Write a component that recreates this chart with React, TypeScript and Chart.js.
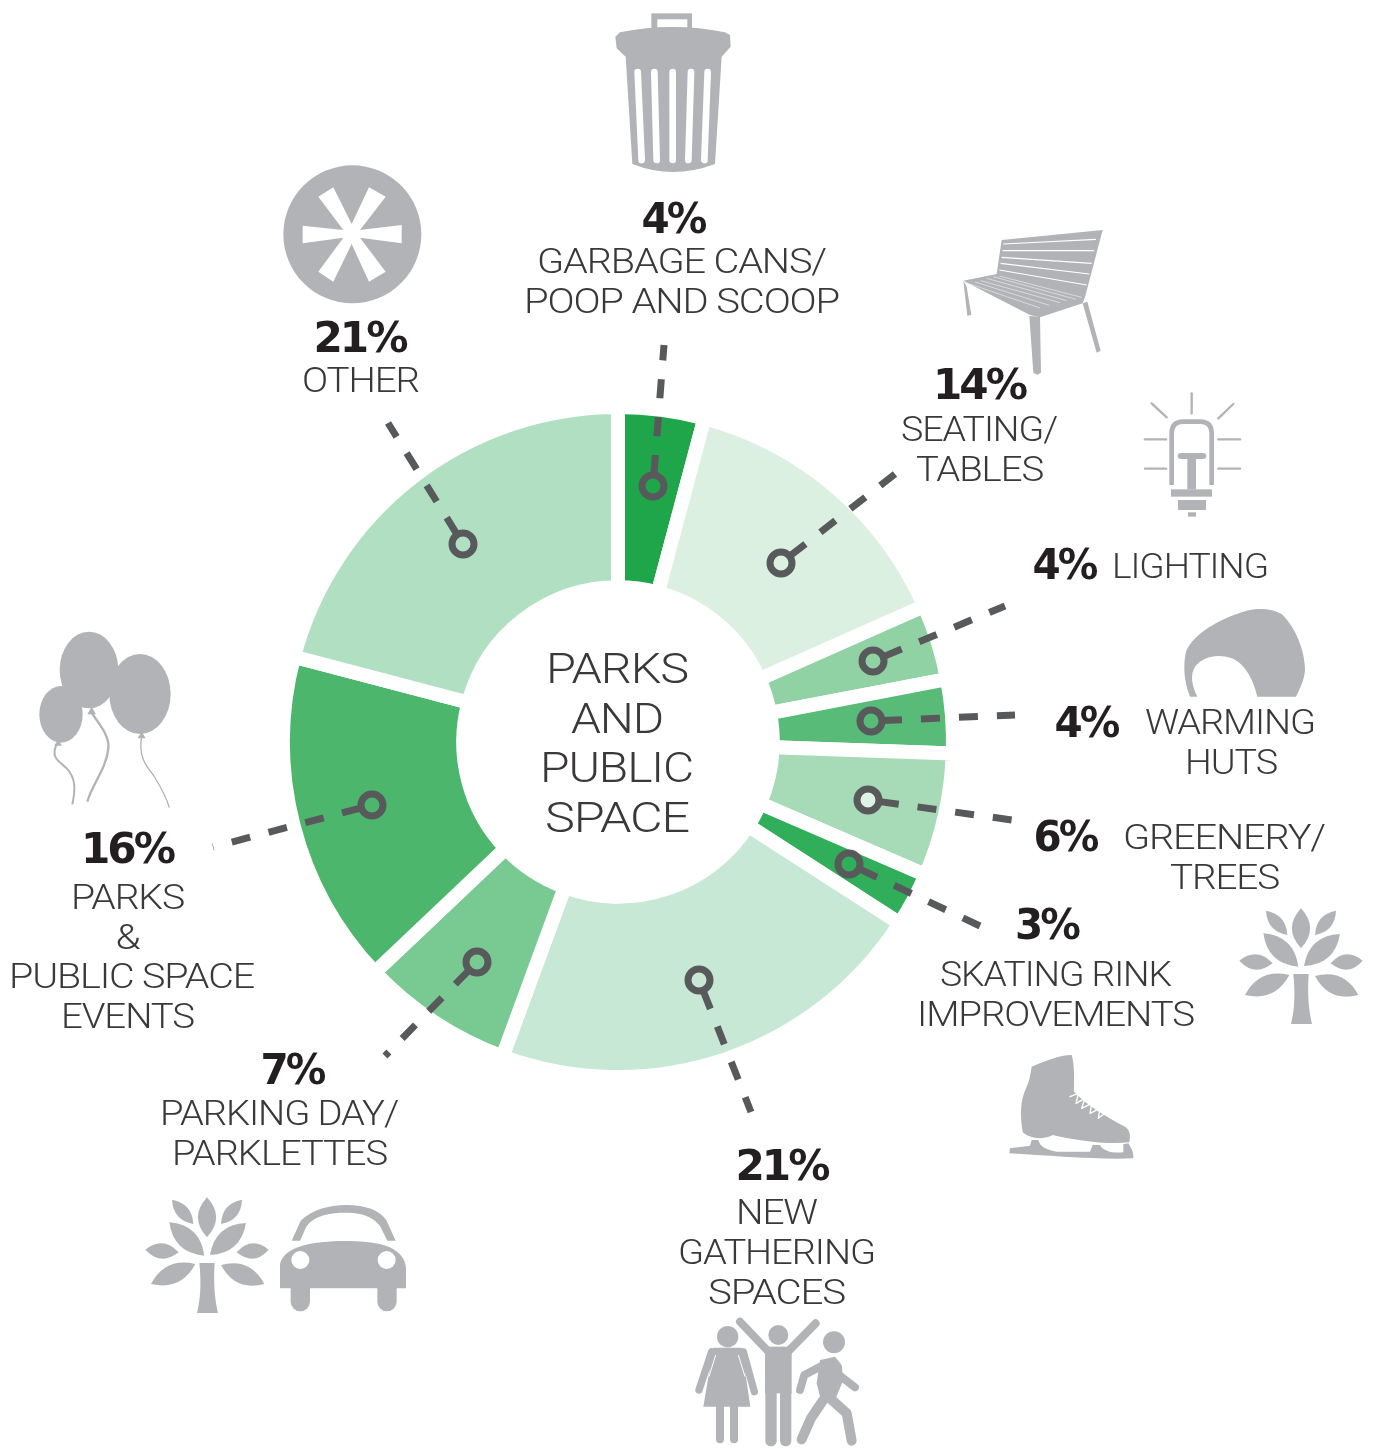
import React, { useEffect, useRef } from "react";
import { Chart, registerables } from "chart.js";

Chart.register(...registerables);

const categories = ["Garbage cans / poop and scoop", "Seating / tables", "Lighting", "Warming huts", "Greenery / trees", "Skating rink improvements", "New gathering spaces", "Parking day / parklettes", "Parks & public space events", "Other"];
const sliceValues = [4.15, 14.2, 3.65, 3.55, 5.95, 2.6, 21.5, 7.33, 16.17, 20.9];
const percentLabels = ["4%", "14%", "4%", "4%", "6%", "3%", "21%", "7%", "16%", "21%"];
const labelLines = ["GARBAGE CANS/", "POOP AND SCOOP", "SEATING/", "TABLES", "LIGHTING", "WARMING", "HUTS", "GREENERY/", "TREES", "SKATING RINK", "IMPROVEMENTS", "NEW", "GATHERING", "SPACES", "PARKING DAY/", "PARKLETTES", "PARKS", "&", "PUBLIC SPACE", "EVENTS", "OTHER"];
const centerLines = ["PARKS", "AND", "PUBLIC", "SPACE"];

const sliceColors = ["#1fa64b", "#dcf0e2", "#90d2a3", "#58bb77", "#a7dab6", "#31ae5a", "#c7e8d5", "#79c993", "#4cb66d", "#b0dfc1"];
const GREY = "#b1b3b6";
const DASH = "#58595b";
const INK = "#231f20";
const PCT = "bold 42px 'DejaVu Sans'";
const LAB = "300 35px Roboto";

// placement of each text: centre x, baseline y, drawn width
const percentSpots = [[673, 233, 63], [979, 399, 92], [1064, 579, 63], [1086, 737, 63], [1065, 851, 63], [1046.5, 939, 63], [781.5, 1180, 92], [292, 1084, 63], [127, 863, 92], [359.5, 352, 92]];
const labelSpots = [[681.5, 273, 289], [681.5, 313, 315], [979, 441, 156], [979.5, 481, 127], [1190, 578, 156], [1230, 734, 170], [1231, 774, 92], [1224, 849, 202], [1224.5, 889, 109], [1055.5, 986, 231], [1055.5, 1026, 277], [776.5, 1224, 81], [776.5, 1264, 197], [776.5, 1304, 137], [279, 1125, 238], [279.5, 1165, 215], [127.5, 909, 113], [127.5, 949, 24], [131.5, 988, 245], [127.5, 1028, 133], [360.5, 392, 117]];
const centerSpots = [[617, 683, 142], [617, 733, 92], [616.5, 782, 153], [617, 832, 144]];
const leaders: [number, number, number, number][] = [
  [653, 486, 664, 345], [781, 563, 895, 474], [873, 661, 1005, 606], [871, 721, 1015, 715], [868, 800, 1012, 820],
  [849, 864, 980, 926], [699, 980, 751, 1112], [477, 962, 385, 1056], [372, 805, 213, 847], [463, 544, 388, 423],
];

type C = CanvasRenderingContext2D;
function at(c: C, x: number, y: number, fn: () => void) {
  c.save(); c.translate(x, y); c.scale(1 / 3, 1 / 3); c.fillStyle = GREY; c.strokeStyle = GREY; c.lineCap = "round"; c.lineJoin = "round"; fn(); c.restore();
}
function poly(c: C, p: number[], color?: string) {
  c.beginPath(); c.moveTo(p[0], p[1]);
  for (let i = 2; i < p.length; i += 2) c.lineTo(p[i], p[i + 1]);
  c.closePath(); if (color) c.fillStyle = color; c.fill();
}
function path(c: C, d: string, color?: string) { if (color) c.fillStyle = color; c.fill(new Path2D(d)); }
function line(c: C, p: number[], w: number, color?: string, cap: CanvasLineCap = "round") {
  c.beginPath(); c.moveTo(p[0], p[1]);
  for (let i = 2; i < p.length; i += 2) c.lineTo(p[i], p[i + 1]);
  c.lineWidth = w; c.lineCap = cap; if (color) c.strokeStyle = color; c.stroke();
}
function dot(c: C, x: number, y: number, r: number, color?: string) { c.beginPath(); c.arc(x, y, r, 0, Math.PI * 2); if (color) c.fillStyle = color; c.fill(); }
function oval(c: C, x: number, y: number, rx: number, ry: number) { c.beginPath(); c.ellipse(x, y, rx, ry, 0, 0, Math.PI * 2); c.fill(); }
function leaf(c: C, ax: number, ay: number, bx: number, by: number, w: number) {
  const mx = (ax + bx) / 2, my = (ay + by) / 2, dx = bx - ax, dy = by - ay, l = Math.hypot(dx, dy);
  const nx = -dy / l * w, ny = dx / l * w;
  c.beginPath(); c.moveTo(ax, ay); c.quadraticCurveTo(mx + nx, my + ny, bx, by); c.quadraticCurveTo(mx - nx, my - ny, ax, ay); c.fill();
}

function trash(c: C) {
  at(c, 600, 0, () => {
    c.fillRect(154, 40, 122, 50);
    c.fillStyle = "#fff"; c.fillRect(172, 58, 90, 25); c.fillStyle = GREY;
    path(c, "M60 97 Q218 65 375 97 L390 105 L392 140 L365 170 L345 492 Q218 540 97 492 L77 170 L50 145 L46 110 Z");
    const slots = [[113, 125], [163, 170], [218, 218], [273, 265], [323, 313]];
    slots.forEach(([a, b]) => line(c, [a, 216, b, 480], 20, "#fff"));
  });
}
function bench(c: C) {
  at(c, 950, 220, () => {
    poly(c, [155, 60, 458, 30, 405, 232, 398, 250, 270, 292, 240, 285, 40, 182, 140, 162]);
    poly(c, [40, 182, 50, 200, 64, 285, 52, 287]);
    poly(c, [238, 288, 270, 290, 273, 458, 262, 464, 250, 458]);
    poly(c, [398, 250, 412, 245, 452, 392, 440, 398]);
    [[160, 72, 438, 58], [158, 92, 432, 92], [155, 112, 425, 130], [152, 130, 418, 162], [148, 150, 410, 195]].forEach(p => line(c, p, 3.5, "#fff", "butt"));
    [[148, 168, 395, 232], [130, 170, 378, 238], [110, 175, 350, 242], [92, 182, 330, 248], [75, 186, 298, 256], [60, 192, 270, 264]].forEach(p => line(c, p, 1.5, "#fff", "butt"));
  });
}
function bulb(c: C) {
  at(c, 950, 220, () => {
    [[725, 520, 725, 580], [605, 550, 650, 592], [850, 552, 805, 595], [585, 658, 648, 658], [805, 658, 870, 658], [585, 746, 648, 746], [805, 746, 870, 746]].forEach(p => line(c, p, 7, GREY));
    c.beginPath(); c.moveTo(665, 795); c.lineTo(665, 640); c.quadraticCurveTo(665, 605, 700, 605); c.lineTo(750, 605); c.quadraticCurveTo(785, 605, 785, 640); c.lineTo(785, 795);
    c.lineWidth = 14; c.lineCap = "butt"; c.stroke();
    line(c, [692, 708, 760, 708], 18, GREY);
    c.fillRect(712, 708, 26, 100); c.fillRect(663, 808, 123, 22); c.fillRect(684, 840, 84, 30); c.fillRect(714, 877, 24, 13);
  });
}
function asterisk(c: C) {
  at(c, 270, 155, () => {
    dot(c, 247, 238, 207);
    poly(c, [245, 207, 297, 97, 347, 125, 270, 225, 395, 210, 395, 265, 270, 248, 347, 350, 297, 380, 245, 267, 190, 380, 145, 350, 220, 248, 98, 265, 98, 212, 220, 225, 145, 125, 190, 97], "#fff");
  });
}
function hut(c: C) {
  at(c, 1170, 600, () => {
    path(c, "M60 290 C40 240 40 190 48 155 C70 100 150 55 230 32 C270 22 310 28 335 42 C375 80 405 150 405 210 C403 240 390 265 378 290 L262 290 C250 240 225 190 185 175 C140 160 100 170 75 200 C60 225 65 255 82 290 Z");
  });
}
function tree(c: C, x: number, y: number) {
  at(c, x, y, () => {
    leaf(c, 213, 25, 213, 145, 55);
    leaf(c, 108, 32, 172, 105, 38);
    leaf(c, 318, 32, 255, 105, 38);
    leaf(c, 100, 100, 205, 200, 58);
    leaf(c, 330, 102, 222, 198, 58);
    leaf(c, 28, 182, 128, 190, 46);
    leaf(c, 398, 182, 302, 190, 46);
    leaf(c, 178, 225, 45, 285, 56);
    leaf(c, 255, 228, 385, 285, 56);
    path(c, "M190 222 H236 C232 280 236 330 246 372 H183 C194 330 196 280 190 222Z");
  });
}
function car(c: C) {
  at(c, 135, 1190, () => {
    path(c, "M470 152 L497 92 C530 60 580 45 635 45 C690 45 735 60 755 92 L782 152 L757 152 L735 108 C710 75 670 68 630 68 C590 68 540 75 515 108 L495 152 Z");
    path(c, "M435 295 L435 225 C440 190 480 165 560 157 C620 150 700 153 745 165 C790 178 812 205 813 235 L813 295 Z");
    line(c, [496, 295, 496, 335], 58, GREY); line(c, [756, 295, 756, 335], 58, GREY);
    dot(c, 496, 210, 27, "#fff"); dot(c, 755, 210, 27, "#fff");
  });
}
function skate(c: C) {
  at(c, 1000, 1045, () => {
    path(c, "M95 65 C130 50 180 30 215 30 C225 60 222 120 222 140 C260 180 310 210 375 245 C390 255 392 270 388 292 C320 300 220 285 158 270 C130 285 90 282 68 262 C60 210 60 170 78 130 C88 110 92 85 95 65 Z");
    line(c, [210, 155, 235, 145, 228, 175, 255, 160, 245, 190, 275, 175, 270, 205, 300, 190, 295, 220, 315, 205], 4, "#fff");
    c.fillStyle = GREY;
    path(c, "M30 310 L90 302 L95 285 L115 285 C120 305 140 315 170 320 L270 320 L278 300 L300 300 C310 320 340 325 370 322 L370 298 L385 295 C395 310 402 325 400 340 C300 345 150 332 28 325 Z");
  });
}
function people(c: C) {
  at(c, 685, 1310, () => {
    dot(c, 128, 80, 32);
    line(c, [80, 125, 42, 240], 22, GREY); line(c, [175, 125, 208, 245], 22, GREY);
    poly(c, [85, 113, 170, 113, 196, 290, 55, 290]);
    line(c, [105, 285, 105, 388], 24, GREY); line(c, [147, 285, 147, 388], 24, GREY);
    line(c, [92, 135, 72, 200], 3, "#fff", "butt"); line(c, [160, 135, 180, 200], 3, "#fff", "butt");
    dot(c, 280, 75, 30, GREY);
    line(c, [165, 35, 248, 122], 24, GREY); line(c, [392, 40, 312, 122], 24, GREY);
    c.fillRect(240, 110, 80, 140);
    line(c, [258, 245, 258, 392], 34, GREY); line(c, [302, 245, 302, 392], 34, GREY);
    dot(c, 447, 97, 33, GREY);
    poly(c, [405, 150, 450, 140, 470, 165, 475, 210, 450, 270, 410, 280, 395, 220]);
    line(c, [425, 160, 358, 195, 345, 240], 24, GREY);
    line(c, [462, 195, 510, 232], 24, GREY);
    line(c, [415, 270, 378, 325, 350, 388], 30, GREY);
    line(c, [435, 265, 485, 310, 500, 392], 30, GREY);
  });
}
function balloons(c: C) {
  at(c, 30, 625, () => {
    oval(c, 177, 135, 88, 115); oval(c, 330, 207, 92, 120); oval(c, 93, 268, 65, 85);
    poly(c, [85, 345, 72, 362, 96, 362]); poly(c, [185, 245, 172, 268, 198, 268]); poly(c, [335, 320, 323, 340, 347, 340]);
    const s = (d: string, w: number) => { c.lineWidth = w; c.lineCap = "butt"; c.stroke(new Path2D(d)); };
    s("M80 358 C60 400 90 410 110 430 C140 460 135 500 127 538", 6);
    s("M185 262 C200 290 240 330 235 370 C230 430 185 480 172 530", 7);
    s("M335 335 C325 390 345 420 370 450 C395 490 410 520 418 548", 4);
  });
}
function fitText(c: C, t: string, spot: number[]) {
  const k = spot[2] / c.measureText(t).width;
  c.save(); c.translate(spot[0], spot[1]); c.scale(k, 1); c.fillText(t, 0, 0); c.restore();
}

const overlay = {
  id: "overlay",
  afterDraw(chart: Chart) {
    const c = chart.ctx;
    c.save();
    leaders.forEach(([x1, y1, x2, y2], i) => {
      const l = Math.hypot(x2 - x1, y2 - y1), ux = (x2 - x1) / l, uy = (y2 - y1) / l;
      c.beginPath(); c.moveTo(x1 + ux * 12, y1 + uy * 12); c.lineTo(x2, y2);
      c.setLineDash([19, 19]); c.lineWidth = 7; c.strokeStyle = DASH; c.lineCap = "butt"; c.stroke();
      c.setLineDash([]);
      c.beginPath(); c.arc(x1, y1, 11, 0, Math.PI * 2);
      if (i === 4) { c.fillStyle = "#e0f2e6"; c.fill(); }
      c.lineWidth = 7; c.stroke();
    });
    trash(c); bench(c); bulb(c); asterisk(c); hut(c); tree(c, 1230, 900); tree(c, 136, 1189); car(c); skate(c); people(c); balloons(c);
    c.textAlign = "center"; c.textBaseline = "alphabetic"; c.fillStyle = INK;
    c.font = PCT; (c as any).letterSpacing = "-3px";
    percentLabels.forEach((t, i) => fitText(c, t, percentSpots[i]));
    c.font = LAB; (c as any).letterSpacing = "-1px"; c.fillStyle = "#3a3839";
    labelLines.forEach((t, i) => fitText(c, t, labelSpots[i]));
    c.font = "300 43px Roboto";
    centerLines.forEach((t, i) => fitText(c, t, centerSpots[i]));
    c.restore();
  },
};

export default function App() {
  const ref = useRef<HTMLCanvasElement>(null);
  useEffect(() => {
    const chart = new Chart(ref.current!, {
      type: "doughnut",
      data: { labels: categories, datasets: [{ data: sliceValues, backgroundColor: sliceColors, borderWidth: 14, borderColor: "#ffffff", borderAlign: "center", borderJoinStyle: "miter" }] },
      options: {
        responsive: false, animation: false, cutout: "46.2%",
        layout: { padding: { left: 276, right: 417, top: 400, bottom: 365 } },
        plugins: { legend: { display: false }, tooltip: { enabled: false } },
      },
      plugins: [overlay],
    } as any);
    return () => chart.destroy();
  }, []);
  return <div style={{ position: "absolute", left: 0, top: 0, background: "#fff" }}><canvas ref={ref} width={1377} height={1449} style={{ display: "block" }} /></div>;
}
